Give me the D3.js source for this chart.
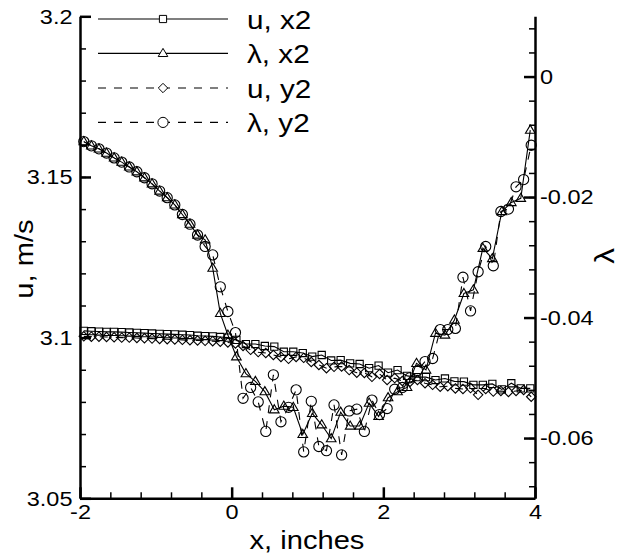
<!DOCTYPE html>
<html>
<head>
<meta charset="utf-8">
<script src="https://cdn.jsdelivr.net/npm/d3@7"></script>
<style>
  body { margin: 0; background: #fff; }
  text { font-family: "Liberation Sans", Arial, sans-serif; fill: #000; }
</style>
</head>
<body>
<div id="chart"></div>
<script>
// x positions (inches) of the two probe traverses
var x_x2 = [-1.95, -1.85, -1.75, -1.65, -1.55, -1.45, -1.35, -1.25, -1.15, -1.05,
    -0.95, -0.85, -0.75, -0.65, -0.55, -0.45, -0.35, -0.25, -0.15, -0.05,
    0.0625, 0.1875, 0.3125, 0.4375, 0.5625, 0.6875, 0.8125, 0.9375, 1.0625, 1.1875,
    1.3125, 1.4375, 1.5625, 1.6875, 1.8125, 1.9375, 2.0625, 2.1875, 2.3125, 2.4375,
    2.5625, 2.6875, 2.8125, 2.9375, 3.0625, 3.1875, 3.3125, 3.4375, 3.5625, 3.6875,
    3.8125, 3.9375];
var x_y2 = [-1.95, -1.85, -1.75, -1.65, -1.55, -1.45, -1.35, -1.25, -1.15, -1.05,
    -0.95, -0.85, -0.75, -0.65, -0.55, -0.45, -0.35, -0.25, -0.15, -0.05,
    0.05, 0.15, 0.25, 0.35, 0.45, 0.55, 0.65, 0.75, 0.85, 0.95,
    1.05, 1.15, 1.25, 1.35, 1.45, 1.55, 1.65, 1.75, 1.85, 1.95,
    2.05, 2.15, 2.25, 2.35, 2.45, 2.55, 2.65, 2.75, 2.85, 2.95,
    3.05, 3.15, 3.25, 3.35, 3.45, 3.55, 3.65, 3.75, 3.85, 3.95];

// u, m/s
var u_x2 = [3.1021, 3.1020, 3.1019, 3.1018, 3.1018, 3.1017, 3.1016, 3.1015, 3.1014, 3.1013,
    3.1012, 3.1011, 3.1010, 3.1009, 3.1008, 3.1006, 3.1005, 3.1004, 3.1002, 3.1000,
    3.0993, 3.0980, 3.0980, 3.0974, 3.0972, 3.0956, 3.0956, 3.0952, 3.0941, 3.0946,
    3.0929, 3.0930, 3.0920, 3.0918, 3.0905, 3.0913, 3.0891, 3.0899, 3.0881, 3.0877,
    3.0877, 3.0868, 3.0873, 3.0864, 3.0863, 3.0853, 3.0853, 3.0856, 3.0839, 3.0858,
    3.0842, 3.0842];
var u_y2 = [3.1004, 3.1003, 3.1003, 3.1002, 3.1001, 3.1000, 3.1000, 3.0999, 3.0998, 3.0997,
    3.0996, 3.0995, 3.0994, 3.0993, 3.0992, 3.0991, 3.0990, 3.0989, 3.0987, 3.0985,
    3.0982, 3.0974, 3.0962, 3.0955, 3.0952, 3.0946, 3.0940, 3.0934, 3.0940, 3.0937,
    3.0924, 3.0915, 3.0905, 3.0909, 3.0910, 3.0899, 3.0891, 3.0890, 3.0878, 3.0887,
    3.0868, 3.0874, 3.0865, 3.0862, 3.0868, 3.0858, 3.0853, 3.0847, 3.0849, 3.0842,
    3.0840, 3.0843, 3.0822, 3.0840, 3.0832, 3.0834, 3.0831, 3.0834, 3.0837, 3.0816];

// lambda
var lam_x2 = [-0.0108, -0.0115, -0.0120, -0.0127, -0.0135, -0.0142, -0.0150, -0.0158, -0.0168, -0.0178,
    -0.0190, -0.0201, -0.0213, -0.0229, -0.0245, -0.0263, -0.0271, -0.0318, -0.0393, -0.0429,
    -0.0465, -0.0493, -0.0506, -0.0523, -0.0553, -0.0547, -0.0549, -0.0594, -0.0559, -0.0578,
    -0.0601, -0.0557, -0.0580, -0.0580, -0.0542, -0.0564, -0.0533, -0.0523, -0.0516, -0.0476,
    -0.0487, -0.0426, -0.0429, -0.0404, -0.0360, -0.0354, -0.0285, -0.0302, -0.0224, -0.0209,
    -0.0202, -0.0089];
var lam_y2 = [-0.0108, -0.0115, -0.0120, -0.0127, -0.0135, -0.0142, -0.0150, -0.0158, -0.0168, -0.0178,
    -0.0190, -0.0201, -0.0213, -0.0229, -0.0245, -0.0263, -0.0282, -0.0296, -0.0349, -0.0390,
    -0.0425, -0.0534, -0.0516, -0.0540, -0.0589, -0.0495, -0.0573, -0.0549, -0.0520, -0.0623,
    -0.0539, -0.0614, -0.0621, -0.0545, -0.0628, -0.0555, -0.0552, -0.0589, -0.0537, -0.0561,
    -0.0551, -0.0519, -0.0516, -0.0500, -0.0488, -0.0473, -0.0468, -0.0420, -0.0420, -0.0418,
    -0.0333, -0.0389, -0.0324, -0.0282, -0.0314, -0.0224, -0.0220, -0.0183, -0.0171, -0.0114];

var x_ticks = [-2, 0, 2, 4];
var u_ticks = [3.05, 3.1, 3.15, 3.2];
var lam_ticks = [-0.06, -0.04, -0.02, 0];

var series_names = ["u, x2", "\u03bb, x2", "u, y2", "\u03bb, y2"];

var width = 625, height = 558;
var m_left = 80, m_right = 535, m_top = 16.3, m_bottom = 498.3;
var sx = 1.12; // the original font is a bit wider than Arial

var svg = d3.select("#chart")
    .append("svg")
    .attr("width", width)
    .attr("height", height);

var x = d3.scaleLinear().domain([-2, 4]).range([m_left, m_right]);
var yu = d3.scaleLinear().domain([3.05, 3.2]).range([m_bottom, m_top]);
var yl = d3.scaleLinear().domain([-0.07, 0.01]).range([m_bottom, m_top]);

// plain hyphen, no trailing zeros
function fmt(d) { return String(+d.toFixed(2)); }

// marker shapes
function square(s) { return "M" + -s + "," + -s + "H" + s + "V" + s + "H" + -s + "Z"; }
function triangle(s) { return "M0," + (-s * 1.05) + "L" + s + "," + (s * 0.65) + "L" + -s + "," + (s * 0.65) + "Z"; }
function diamond(s) { return "M0," + -s + "L" + s + ",0L0," + s + "L" + -s + ",0Z"; }
function circle(r) { return "M" + r + ",0A" + r + "," + r + " 0 1,1 " + -r + ",0A" + r + "," + r + " 0 1,1 " + r + ",0Z"; }

var series = [
    { name: series_names[0], xs: x_x2, ys: u_x2, y: yu, dash: null, shape: square(3.6) },
    { name: series_names[1], xs: x_x2, ys: lam_x2, y: yl, dash: null, shape: triangle(4.8) },
    { name: series_names[2], xs: x_y2, ys: u_y2, y: yu, dash: "8,8", shape: diamond(4.7) },
    { name: series_names[3], xs: x_y2, ys: lam_y2, y: yl, dash: "8,8", shape: circle(5.1) }
];

// axes
function styleAxis(g, padX) {
    g.select(".domain").attr("stroke", "#000").attr("stroke-width", 2.5);
    g.selectAll(".tick line").attr("stroke", "#000").attr("stroke-width", 2.5);
    g.selectAll(".tick text")
        .attr("font-size", "21px")
        .attr("font-family", "Liberation Sans, Arial, sans-serif")
        .attr("transform", "scale(" + sx + ",1)");
    if (padX !== undefined) g.selectAll(".tick text").attr("x", padX / sx);
}
function minor(g) {
    g.select(".domain").remove();
    g.selectAll(".tick line").attr("stroke", "#000").attr("stroke-width", 1.5);
}

var xMinor = d3.range(-2, 4.001, 0.4).filter(function(v) { return Math.abs(v / 2 - Math.round(v / 2)) > 0.01; });
var uMinor = d3.range(3.05, 3.2001, 0.01);
var lMinor = d3.range(-0.068, 0.0101, 0.004);

svg.append("g")
    .attr("transform", "translate(0," + m_bottom + ")")
    .call(d3.axisBottom(x).tickValues(xMinor).tickSize(-6).tickSizeOuter(0).tickFormat(""))
    .call(minor);
svg.append("g")
    .attr("transform", "translate(" + m_left + ",0)")
    .call(d3.axisLeft(yu).tickValues(uMinor).tickSize(-6).tickSizeOuter(0).tickFormat(""))
    .call(minor);
svg.append("g")
    .attr("transform", "translate(" + m_right + ",0)")
    .call(d3.axisRight(yl).tickValues(lMinor).tickSize(-6).tickSizeOuter(0).tickFormat(""))
    .call(minor);

svg.append("g")
    .attr("transform", "translate(0," + m_bottom + ")")
    .call(d3.axisBottom(x).tickValues(x_ticks).tickSize(-11).tickSizeOuter(0).tickPadding(6).tickFormat(fmt))
    .call(function(g) { styleAxis(g); });
svg.append("g")
    .attr("transform", "translate(" + m_left + ",0)")
    .call(d3.axisLeft(yu).tickValues(u_ticks).tickSize(-11).tickSizeOuter(0).tickFormat(fmt))
    .call(function(g) { styleAxis(g, -7.5); });
svg.append("g")
    .attr("transform", "translate(" + m_right + ",0)")
    .call(d3.axisRight(yl).tickValues(lam_ticks).tickSize(-11).tickSizeOuter(0).tickFormat(fmt))
    .call(function(g) { styleAxis(g, 5); });

// axis titles
svg.append("text")
    .attr("transform", "translate(33,259) rotate(-90) scale(" + sx + ",1)")
    .attr("text-anchor", "middle")
    .attr("font-size", "26px")
    .text("u, m/s");
svg.append("text")
    .attr("transform", "translate(307,549) scale(" + sx + ",1)")
    .attr("text-anchor", "middle")
    .attr("font-size", "26px")
    .text("x, inches");
svg.append("text")
    .attr("transform", "translate(614,256) rotate(-90) scale(" + sx + ",1)")
    .attr("text-anchor", "middle")
    .attr("font-size", "28px")
    .text("\u03bb");

// series
series.forEach(function(s) {
    var pts = s.xs.map(function(d, i) { return [d, s.ys[i]]; });
    var line = d3.line()
        .x(function(d) { return x(d[0]); })
        .y(function(d) { return s.y(d[1]); });
    svg.append("path")
        .datum(pts)
        .attr("d", line)
        .attr("fill", "none")
        .attr("stroke", "#000")
        .attr("stroke-width", 1.1)
        .attr("stroke-dasharray", s.dash);
    svg.append("g").selectAll("path")
        .data(pts)
        .enter()
        .append("path")
        .attr("transform", function(d) { return "translate(" + x(d[0]) + "," + s.y(d[1]) + ")"; })
        .attr("d", s.shape)
        .attr("fill", "none")
        .attr("stroke", "#000")
        .attr("stroke-width", 1.1);
});

// legend
var legend = svg.append("g");
var rowY = [19, 53.4, 88, 122.4];
series.forEach(function(s, i) {
    var g = legend.append("g").attr("transform", "translate(0," + rowY[i] + ")");
    g.append("line")
        .attr("x1", 98).attr("x2", 228)
        .attr("stroke", "#000").attr("stroke-width", 1.1)
        .attr("stroke-dasharray", s.dash);
    g.append("path")
        .attr("transform", "translate(163,0)")
        .attr("d", s.shape)
        .attr("fill", "#fff")
        .attr("stroke", "#000");
    g.append("text")
        .attr("transform", "translate(247,0) scale(" + sx + ",1)")
        .attr("dy", "0.36em")
        .attr("font-size", "26.5px")
        .text(s.name);
});
</script>
</body>
</html>
